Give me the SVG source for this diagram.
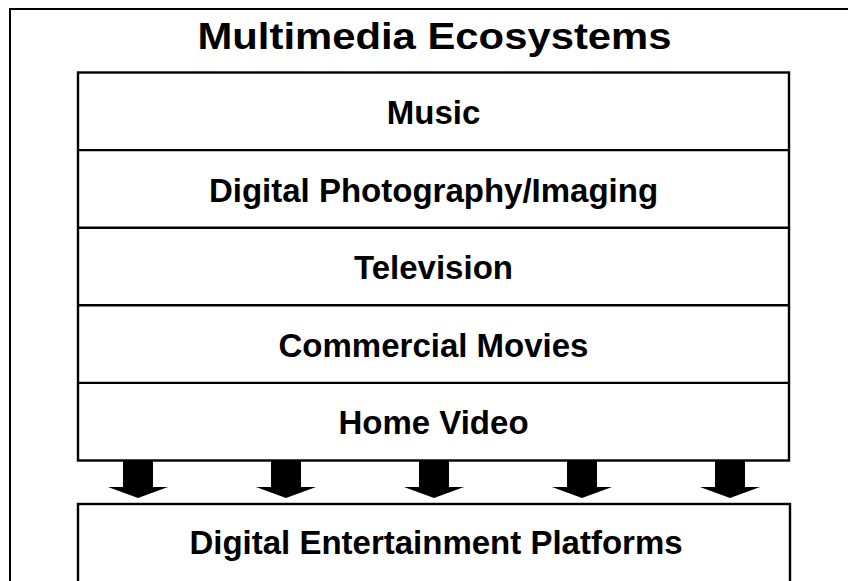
<svg xmlns="http://www.w3.org/2000/svg" width="848" height="581" viewBox="0 0 848 581">
  <style>
    .frame { fill: #ffffff; stroke: #000000; stroke-width: 2; }
    .box { fill: #ffffff; stroke: #000000; stroke-width: 2.4; }
    .sep { stroke: #000000; stroke-width: 2.4; }
    .title { font-family: "Liberation Sans", Arial, sans-serif; font-weight: bold; font-size: 37px; fill: #000000; text-anchor: middle; }
    .label { font-family: "Liberation Sans", Arial, sans-serif; font-weight: bold; font-size: 33px; fill: #000000; text-anchor: middle; }
    .arrow { fill: #000000; }
  </style>
  <defs>
    <path id="down-arrow" class="arrow" d="M -15 0 L 15 0 L 15 26 L 30 26 L 0 37 L -30 26 L -15 26 Z"/>
  </defs>

  <rect width="848" height="581" fill="#ffffff"/>
  <!-- outer frame, running off the right and bottom edges -->
  <rect class="frame" x="10" y="9" width="860" height="600"/>

  <text class="title" x="434.5" y="49" textLength="474" lengthAdjust="spacingAndGlyphs">Multimedia Ecosystems</text>

  <!-- stacked layers -->
  <g id="stack">
    <rect class="box" x="78" y="72.5" width="711" height="388"/>
    <g id="music">
      <text class="label" x="433.5" y="123.5">Music</text>
    </g>
    <g id="photography">
      <line class="sep" x1="78" y1="150.1" x2="789" y2="150.1"/>
      <text class="label" x="433.5" y="201.5">Digital Photography/Imaging</text>
    </g>
    <g id="television">
      <line class="sep" x1="78" y1="227.7" x2="789" y2="227.7"/>
      <text class="label" x="433.5" y="279">Television</text>
    </g>
    <g id="movies">
      <line class="sep" x1="78" y1="305.3" x2="789" y2="305.3"/>
      <text class="label" x="433.5" y="356.5">Commercial Movies</text>
    </g>
    <g id="home-video">
      <line class="sep" x1="78" y1="382.9" x2="789" y2="382.9"/>
      <text class="label" x="433.5" y="434">Home Video</text>
    </g>
  </g>

  <!-- arrows from the stack to the platforms box -->
  <g id="connectors">
    <use href="#down-arrow" x="138" y="461"/>
    <use href="#down-arrow" x="286" y="461"/>
    <use href="#down-arrow" x="434" y="461"/>
    <use href="#down-arrow" x="582" y="461"/>
    <use href="#down-arrow" x="730" y="461"/>
  </g>

  <g id="platforms">
    <rect class="box" x="78" y="504" width="712" height="120"/>
    <text class="label" x="436" y="553.5">Digital Entertainment Platforms</text>
  </g>
</svg>
